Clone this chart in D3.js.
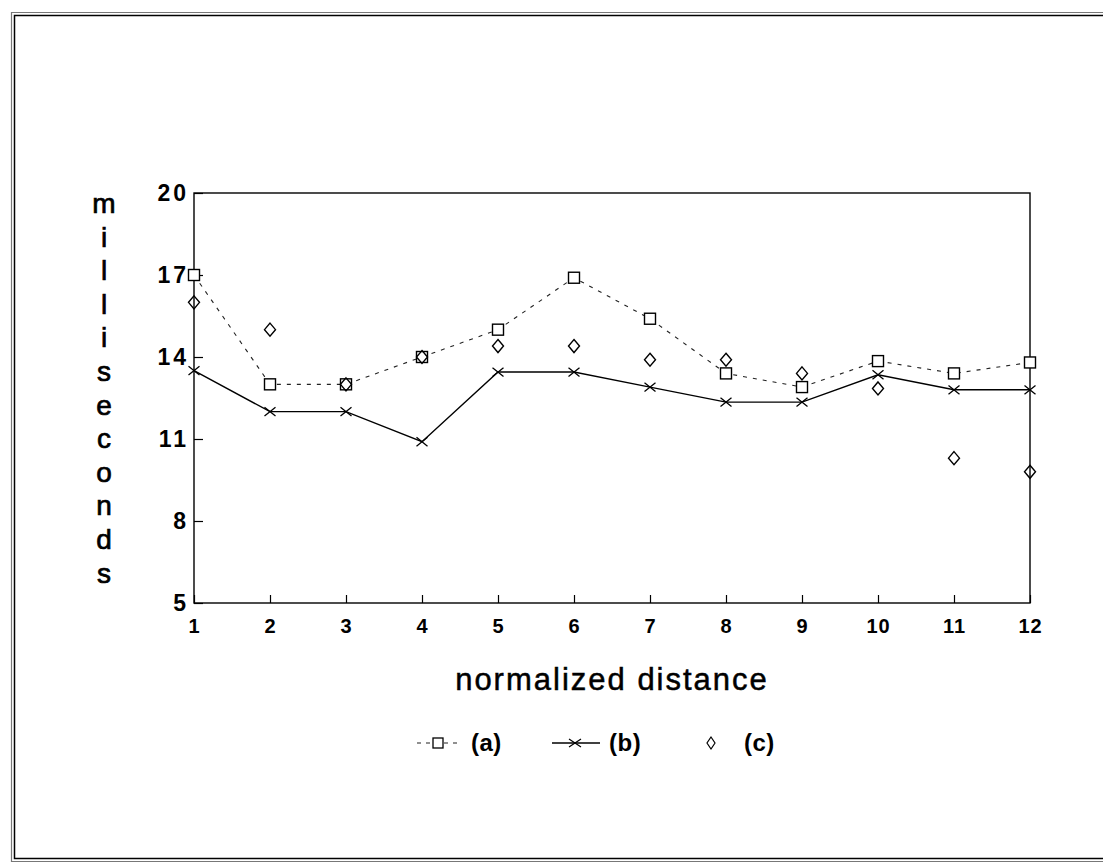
<!DOCTYPE html>
<html><head><meta charset="utf-8">
<script src="https://cdn.jsdelivr.net/npm/d3@7"></script>
<style>
html,body{margin:0;padding:0;background:#fff;}
svg{display:block;}
text{font-family:"Liberation Sans",Arial,sans-serif;fill:#000;}
</style></head>
<body>
<svg id="chart" width="1103" height="864"></svg>
<script>
const categories = [1,2,3,4,5,6,7,8,9,10,11,12];
const seriesA = [17.0,13.0,13.0,14.0,15.0,16.9,15.4,13.4,12.9,13.85,13.4,13.8];
const seriesB = [13.5,12.0,12.0,10.9,13.45,13.45,12.9,12.35,12.35,13.35,12.8,12.8];
const seriesC = [16.0,15.0,13.0,14.0,14.4,14.4,13.9,13.9,13.4,12.85,10.3,9.8];
const yTicks = [5,8,11,14,17,20];
const seriesNames = ["(a)","(b)","(c)"];
const xTitle = "normalized distance";
const yTitle = "milliseconds";

const svg = d3.select("#chart");
const margin = {left:194, right:1030, top:193, bottom:603};

// outer frame (double line: left, top, bottom)
const frame = svg.append("g");
frame.append("path").attr("d","M1103,12.5 H11.5 V861.5 H1103").attr("fill","none").attr("stroke","#777").attr("stroke-width",1.2);
frame.append("path").attr("d","M1103,15.5 H14.5 V858.5 H1103").attr("fill","none").attr("stroke","#000").attr("stroke-width",1.5);

const x = d3.scaleLinear().domain([1,12]).range([margin.left, margin.right]);
const y = d3.scaleLinear().domain([5,20]).range([margin.bottom, margin.top]);

// plot box
svg.append("rect").attr("x",x(1)).attr("y",y(20)).attr("width",x(12)-x(1)).attr("height",y(5)-y(20))
  .attr("fill","none").attr("stroke","#000").attr("stroke-width",1.4);

// axes
const yAxis = d3.axisLeft(y).tickValues(yTicks).tickSize(-9).tickPadding(5).tickFormat(d3.format("d"));
const gy = svg.append("g").attr("transform",`translate(${x(1)},0)`).call(yAxis);
gy.select(".domain").remove();
gy.selectAll(".tick line").attr("stroke","#000").attr("stroke-width",1.2);
gy.selectAll(".tick text").attr("font-size",23).attr("font-weight","bold").attr("letter-spacing",3)
  .attr("font-family","Liberation Sans, Arial, sans-serif");

const xAxis = d3.axisBottom(x).tickValues(categories).tickSize(-8).tickPadding(16).tickFormat(d3.format("d"));
const gx = svg.append("g").attr("transform",`translate(0,${y(5)})`).call(xAxis);
gx.select(".domain").remove();
gx.selectAll(".tick line").attr("stroke","#000").attr("stroke-width",1.2);
gx.selectAll(".tick text").attr("font-size",20).attr("font-weight","bold").attr("letter-spacing",1)
  .attr("font-family","Liberation Sans, Arial, sans-serif");

// titles
svg.append("text").attr("x",(x(1)+x(12))/2).attr("y",690).attr("text-anchor","middle")
  .attr("font-size",31).attr("letter-spacing",2).attr("stroke","#000").attr("stroke-width",0.5).text(xTitle);

const yt = svg.append("text").attr("x",104).attr("text-anchor","middle").attr("font-size",28).attr("stroke","#000").attr("stroke-width",0.7);
yTitle.split("").forEach((ch,i)=>{
  yt.append("tspan").attr("x",104).attr("y",213 + i*33.6).text(ch);
});

// series (a): dashed line with squares
const line = d3.line().x((d,i)=>x(categories[i])).y(d=>y(d));
svg.append("path").datum(seriesA).attr("d",line).attr("fill","none").attr("stroke","#222")
  .attr("stroke-width",1.1).attr("stroke-dasharray","4,6");
// series (b): solid line
svg.append("path").datum(seriesB).attr("d",line).attr("fill","none").attr("stroke","#000").attr("stroke-width",1.4);

const sq = 11;
svg.append("g").selectAll("rect").data(seriesA).join("rect")
  .attr("x",(d,i)=>x(categories[i])-sq/2).attr("y",d=>y(d)-sq/2).attr("width",sq).attr("height",sq)
  .attr("fill","#fff").attr("stroke","#000").attr("stroke-width",1.4);

const xs = 5.5;
svg.append("g").selectAll("path").data(seriesB).join("path")
  .attr("d",(d,i)=>{const cx=x(categories[i]),cy=y(d);return `M${cx-xs},${cy-xs*0.8}L${cx+xs},${cy+xs*0.8}M${cx-xs},${cy+xs*0.8}L${cx+xs},${cy-xs*0.8}`;})
  .attr("stroke","#000").attr("stroke-width",1.3).attr("fill","none");

const dw=5.5, dh=6.5;
svg.append("g").selectAll("path").data(seriesC).join("path")
  .attr("d",(d,i)=>{const cx=x(categories[i]),cy=y(d);return `M${cx},${cy-dh}L${cx+dw},${cy}L${cx},${cy+dh}L${cx-dw},${cy}Z`;})
  .attr("fill","none").attr("stroke","#000").attr("stroke-width",1.4);

// legend
const ly = 743;
const leg = svg.append("g");
leg.append("line").attr("x1",417).attr("x2",460).attr("y1",ly).attr("y2",ly).attr("stroke","#222").attr("stroke-width",1.1).attr("stroke-dasharray","4,5");
leg.append("rect").attr("x",433).attr("y",ly-5).attr("width",10).attr("height",10).attr("fill","#fff").attr("stroke","#000").attr("stroke-width",1.3);
leg.append("text").attr("x",471).attr("y",ly+8).attr("font-size",24).attr("font-weight","bold").attr("letter-spacing",0.5).text(seriesNames[0]);
leg.append("line").attr("x1",552).attr("x2",600).attr("y1",ly).attr("y2",ly).attr("stroke","#000").attr("stroke-width",1.3);
leg.append("path").attr("d",`M${575-6},${ly-4}L${575+6},${ly+4}M${575-6},${ly+4}L${575+6},${ly-4}`).attr("stroke","#000").attr("stroke-width",1.2);
leg.append("text").attr("x",609).attr("y",ly+8).attr("font-size",24).attr("font-weight","bold").attr("letter-spacing",0.5).text(seriesNames[1]);
leg.append("path").attr("d",`M711,${ly-6}L715,${ly}L711,${ly+6}L707,${ly}Z`).attr("fill","none").attr("stroke","#000").attr("stroke-width",1.2);
leg.append("text").attr("x",744).attr("y",ly+8).attr("font-size",24).attr("font-weight","bold").attr("letter-spacing",0.5).text(seriesNames[2]);
</script>
</body></html>
